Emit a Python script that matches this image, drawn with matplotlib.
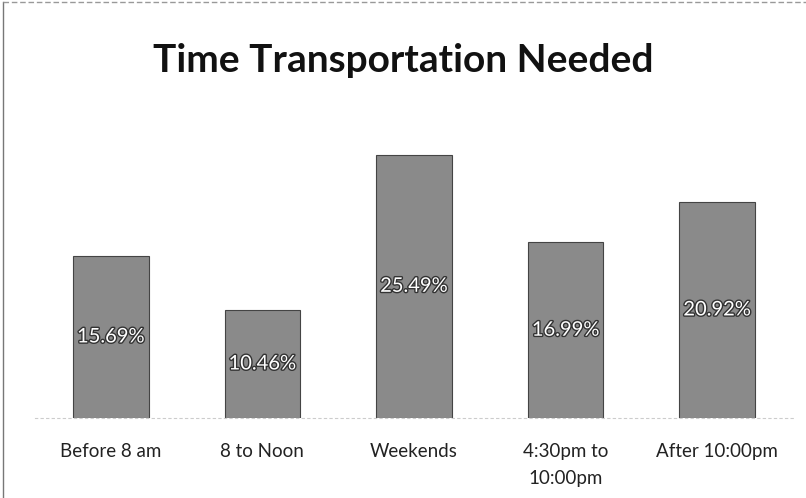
import matplotlib.pyplot as plt
import matplotlib.patheffects as pe

categories = ["Before 8 am", "8 to Noon", "Weekends", "4:30pm to\n10:00pm", "After 10:00pm"]
values = [15.69, 10.46, 25.49, 16.99, 20.92]
value_labels = ["15.69%", "10.46%", "25.49%", "16.99%", "20.92%"]

plt.rcParams['font.family'] = ['Lato', 'DejaVu Sans']

fig = plt.figure(figsize=(8.06, 4.98), dpi=100)
ax = fig.add_axes([35 / 806, 80 / 498, 758 / 806, 310 / 498])

x = list(range(len(categories)))
bars = ax.bar(x, values, width=0.5, color="#8a8a8a", edgecolor="#444444", linewidth=0.8)

for b, lab in zip(bars, value_labels):
    ax.text(b.get_x() + b.get_width() / 2, b.get_height() / 2, lab,
            ha="center", va="center", color="white", fontsize=14.5,
            path_effects=[pe.withStroke(linewidth=2, foreground="#333333")])

ax.set_xlim(-0.5, len(categories) - 0.5)
ax.set_ylim(0, 30)
ax.set_xticks(x)
ax.set_xticklabels(categories, fontsize=13.5, color="#222222", linespacing=1.7)
ax.tick_params(axis="x", length=0, pad=18)
ax.set_yticks([])
for s in ["top", "right", "left"]:
    ax.spines[s].set_visible(False)
ax.spines["bottom"].set_color("#cccccc")
ax.spines["bottom"].set_linestyle((0, (2, 3)))

fig.text(0.5, 1 - 60 / 498, "Time Transportation Needed", ha="center", va="center",
         fontsize=28, fontweight="bold", color="#111111")

# page frame lines (left and top)
fig.add_artist(plt.Line2D([3 / 806, 3 / 806], [0, 1 - 2 / 498], color="#777777", lw=1))
fig.add_artist(plt.Line2D([3 / 806, 1], [1 - 2 / 498, 1 - 2 / 498], color="#999999", lw=1, ls=(0, (4, 2))))

fig.savefig("out.png", dpi=100)
